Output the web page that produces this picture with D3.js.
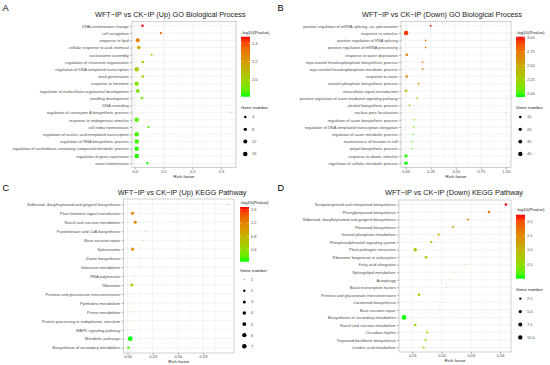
<!DOCTYPE html>
<html>
<head>
<meta charset="utf-8">
<script src="https://cdn.jsdelivr.net/npm/d3@7"></script>
<style>
  body { margin: 0; background: #fff; }
  svg { display: block; font-family: 'Liberation Sans', Arial, sans-serif; }
</style>
</head>
<body>
<main></main>
<script>
/************************************************************************
 Data
************************************************************************/
// A: GO biological process, up
const termsA = ['DNA conformation change', 'cell recognition', 'response to lipid', 'cellular response to acid chemical',
  'nucleosome assembly', 'regulation of chromatin organization', 'regulation of DNA-templated transcription',
  'seed germination', 'response to hormone', 'regulation of multicellular organismal development',
  'seedling development', 'DNA rewinding', 'regulation of coenzyme A biosynthetic process',
  'response to endogenous stimulus', 'cell redox homeostasis', 'regulation of nucleic acid-templated transcription',
  'regulation of RNA biosynthetic process', 'regulation of nucleobase-containing compound metabolic process',
  'regulation of gene expression', 'anion homeostasis'];
const richA = [0.027, 0.091, 0.0105, 0.014, 0.059, 0.028, 0.007, 0.028, 0.007, 0.0105,
  0.0255, 0.336, 0.336, 0.007, 0.048, 0.007, 0.007, 0.007, 0.007, 0.044];
const genesA = [4, 3, 12, 9, 2, 4, 15, 4, 14, 10, 4, 1, 1, 15, 3, 16, 16, 16, 17, 3];
const logpA = [2.47, 2.38, 2.3, 2.15, 2.08, 2.05, 2.03, 2.0, 1.93, 1.92,
  1.9, 1.88, 1.88, 1.87, 1.86, 1.85, 1.85, 1.84, 1.83, 1.82];
const xTicksA = [0, 0.1, 0.2, 0.3];
const colorTicksA = [2.0, 2.2, 2.4];
const sizeTicksA = [4, 8, 12, 16];

// B: GO biological process, down
const termsB = ['positive regulation of mRNA splicing, via spliceosome', 'response to stimulus',
  'positive regulation of RNA splicing', 'positive regulation of mRNA processing', 'response to water deprivation',
  'myo-inositol hexakisphosphate biosynthetic process', 'myo-inositol hexakisphosphate metabolic process',
  'response to water', 'inositol phosphate biosynthetic process', 'intracellular signal transduction',
  'positive regulation of auxin mediated signaling pathway', 'alcohol biosynthetic process',
  'nuclear pore localization', 'regulation of auxin biosynthetic process',
  'regulation of DNA-templated transcription elongation', 'regulation of auxin metabolic process',
  'maintenance of location in cell', 'polyol biosynthetic process', 'response to abiotic stimulus',
  'regulation of cellular metabolic process'];
const richB = [0.25, 0.005, 0.2, 0.2, 0.012, 0.17, 0.17, 0.011, 0.13, 0.005,
  0.115, 0.04, 1.0, 0.085, 0.08, 0.075, 0.068, 0.065, 0.004, 0.004];
const genesB = [4, 46, 3, 3, 9, 3, 3, 9, 3, 9, 3, 4, 1, 2, 2, 2, 2, 2, 20, 20];
const logpB = [3.02, 2.95, 2.8, 2.8, 2.72, 2.7, 2.7, 2.68, 2.6, 2.42,
  2.38, 2.32, 2.05, 2.03, 2.03, 2.0, 1.98, 1.98, 1.95, 1.93];
const xTicksB = [0, 0.25, 0.5, 0.75, 1.0];
const colorTicksB = [2.0, 2.25, 2.5, 2.75, 3.0];
const sizeTicksB = [10, 20, 30, 40];

// C: KEGG pathway, up
const termsC = ['Stilbenoid, diarylheptanoid and gingerol biosynthesis', 'Plant hormone signal transduction',
  'Starch and sucrose metabolism', 'Pantothenate and CoA biosynthesis', 'Base excision repair', 'Spliceosome',
  'Zeatin biosynthesis', 'Galactose metabolism', 'RNA polymerase', 'Ribosome',
  'Pentose and glucuronate interconversions', 'Pyrimidine metabolism', 'Purine metabolism',
  'Protein processing in endoplasmic reticulum', 'MAPK signaling pathway', 'Metabolic pathways',
  'Biosynthesis of secondary metabolites'];
const richC = [0.121, 0.006, 0.0092, 0.022, 0.0187, 0.006, 0.015, 0.0148, 0.0085, 0.0051,
  0.0071, 0.006, 0.0051, 0.0044, 0.0044, 0.0032, 0.0012];
const genesC = [1, 3, 3, 1, 1, 3, 1, 1, 1, 3, 1, 1, 1, 1, 1, 7, 2];
const logpC = [1.68, 1.2, 1.15, 1.0, 1.05, 1.1, 0.88, 0.86, 0.68, 0.6,
  0.52, 0.45, 0.4, 0.3, 0.3, 0.04, 0.1];
const xTicksC = [0, 0.03, 0.06, 0.09];
const colorTicksC = [0.4, 0.8, 1.2, 1.6];
const sizeTicksC = [1, 2, 3, 4, 5, 6, 7];

// D: KEGG pathway, down
const termsD = ['Sesquiterpenoid and triterpenoid biosynthesis', 'Phenylpropanoid biosynthesis',
  'Stilbenoid, diarylheptanoid and gingerol biosynthesis', 'Flavonoid biosynthesis', 'Inositol phosphate metabolism',
  'Phosphatidylinositol signaling system', 'Plant-pathogen interaction', 'Ribosome biogenesis in eukaryotes',
  'Fatty acid elongation', 'Sphingolipid metabolism', 'Autophagy', 'Basal transcription factors',
  'Pentose and glucuronate interconversions', 'Carotenoid biosynthesis', 'Base excision repair',
  'Biosynthesis of secondary metabolites', 'Starch and sucrose metabolism', 'Circadian rhythm',
  'Terpenoid backbone biosynthesis', 'Linoleic acid metabolism'];
const richD = [0.042, 0.0362, 0.029, 0.024, 0.019, 0.0165, 0.011, 0.0147, 0.028, 0.0243,
  0.0232, 0.0217, 0.0123, 0.0208, 0.0193, 0.0072, 0.011, 0.0151, 0.0145, 0.0139];
const genesD = [3, 3, 2, 2, 2, 2, 6, 3, 1, 1, 1, 1, 3, 1, 1, 11, 3, 2, 2, 2];
const logpD = [2.23, 1.75, 1.5, 1.3, 1.15, 1.02, 0.82, 0.78, 0.68, 0.62,
  0.6, 0.58, 0.6, 0.55, 0.52, 0.0, 0.5, 0.45, 0.43, 0.42];
const xTicksD = [0.01, 0.02, 0.03, 0.04];
const colorTicksD = [0.5, 1.0, 1.5, 2.0];
const sizeTicksD = [2.5, 5.0, 7.5, 10.0];

/************************************************************************
 Layout / style constants
************************************************************************/
const width = 550;
const height = 365;
const rMin = 0.45;
const rMax = 2.3;
const gridColor = '#ebebeb';
const textGrey = '#4d4d4d';

const svg = d3.select('main')
  .append('svg')
  .attr('width', width)
  .attr('height', height);

svg.append('rect').attr('width', width).attr('height', height).attr('fill', '#fff');

const panels = [
  { id: 'A', terms: termsA, rich: richA, genes: genesA, logp: logpA, xTicks: xTicksA, xFmt: '.1f',
    colorTicks: colorTicksA, colorFmt: '.1f', sizeTicks: sizeTicksA, sizeFmt: 'd',
    title: 'WFT\u2212IP vs CK\u2212IP (Up) GO Biological Process',
    left: 132, right: 236, top: 21.5, bottom: 167.5, letterX: 2.5, letterY: 10.5, titleX: 95, titleY: 16.5,
    legX: 241, legTitleY: 33.5, barTop: 36.7, barBottom: 96.7, sizeTitleY: 108.5, sizeY0: 117, sizeStep: 12.3 },
  { id: 'B', terms: termsB, rich: richB, genes: genesB, logp: logpB, xTicks: xTicksB, xFmt: '.2f',
    colorTicks: colorTicksB, colorFmt: '.2f', sizeTicks: sizeTicksB, sizeFmt: 'd',
    title: 'WFT\u2212IP vs CK\u2212IP (Down) GO Biological Process',
    left: 401, right: 511, top: 21.5, bottom: 167.5, letterX: 277.5, letterY: 10.5, titleX: 362, titleY: 16.5,
    legX: 516, legTitleY: 33.5, barTop: 36.7, barBottom: 97, sizeTitleY: 108.5, sizeY0: 117, sizeStep: 12.3 },
  { id: 'C', terms: termsC, rich: richC, genes: genesC, logp: logpC, xTicks: xTicksC, xFmt: '.2f',
    colorTicks: colorTicksC, colorFmt: '.1f', sizeTicks: sizeTicksC, sizeFmt: 'd',
    title: 'WFT\u2212IP vs CK\u2212IP (Up) KEGG Pathway',
    left: 123.5, right: 234, top: 199, bottom: 353, letterX: 2.5, letterY: 190.5, titleX: 117.7, titleY: 195,
    legX: 240, legTitleY: 204.2, barTop: 207, barBottom: 261.7, sizeTitleY: 271.8, sizeY0: 279.7, sizeStep: 11.1 },
  { id: 'D', terms: termsD, rich: richD, genes: genesD, logp: logpD, xTicks: xTicksD, xFmt: '.2f',
    colorTicks: colorTicksD, colorFmt: '.1f', sizeTicks: sizeTicksD, sizeFmt: '.1f',
    title: 'WFT\u2212IP vs CK\u2212IP (Down) KEGG Pathway',
    left: 399, right: 511, top: 200, bottom: 352, letterX: 277.5, letterY: 190.5, titleX: 385, titleY: 195,
    legX: 516, legTitleY: 211.2, barTop: 214.7, barBottom: 278.7, sizeTitleY: 290.5, sizeY0: 298.7, sizeStep: 12.9 }
];

// ggplot-like 5% expansion of a continuous range
const expand = ([lo, hi]) => [lo - (hi - lo) * 0.05, hi + (hi - lo) * 0.05];

/************************************************************************
 Draw one bubble panel with its legends
************************************************************************/
const drawPanel = (p) => {
  const g = svg.append('g').attr('id', `panel${p.id}`);

  const x = d3.scaleLinear().domain(expand(d3.extent(p.rich))).range([p.left, p.right]);
  const y = d3.scalePoint().domain(p.terms).range([p.top, p.bottom]).padding(0.6);

  const pExtent = d3.extent(p.logp);
  const color = d3.scaleLinear().domain(pExtent).range(['#00ff00', '#ff0000']).interpolate(d3.interpolateLab);

  const gExtent = d3.extent(p.genes);
  const sizeNorm = d3.scaleSqrt().domain([0, gExtent[1] - gExtent[0]]).range([0, 1]);
  const radius = v => rMin + (rMax - rMin) * sizeNorm(v - gExtent[0]);

  // panel letter + title
  g.append('text').text(p.id)
    .attr('x', p.letterX).attr('y', p.letterY)
    .attr('font-size', 9.2).attr('fill', '#000');
  g.append('text').text(p.title)
    .attr('x', p.titleX).attr('y', p.titleY)
    .attr('font-size', 7.3).attr('fill', '#1a1a1a');

  // panel background + grid
  g.append('rect')
    .attr('x', p.left).attr('y', p.top)
    .attr('width', p.right - p.left).attr('height', p.bottom - p.top)
    .attr('fill', '#fff');

  const step = p.xTicks[1] - p.xTicks[0];
  const [d0, d1] = x.domain();
  const minor = d3.range(p.xTicks[0] - step / 2, d1, step).filter(v => v > d0);

  g.selectAll('.minor').data(minor).enter().append('line')
    .attr('x1', d => x(d)).attr('x2', d => x(d))
    .attr('y1', p.top).attr('y2', p.bottom)
    .attr('stroke', gridColor).attr('stroke-width', 0.3);

  g.selectAll('.vmajor').data(p.xTicks).enter().append('line')
    .attr('x1', d => x(d)).attr('x2', d => x(d))
    .attr('y1', p.top).attr('y2', p.bottom)
    .attr('stroke', gridColor).attr('stroke-width', 0.6);

  g.selectAll('.hmajor').data(p.terms).enter().append('line')
    .attr('x1', p.left).attr('x2', p.right)
    .attr('y1', d => y(d)).attr('y2', d => y(d))
    .attr('stroke', gridColor).attr('stroke-width', 0.6);

  // bubbles
  g.selectAll('circle.pt').data(p.terms).enter().append('circle')
    .attr('cx', (d, i) => x(p.rich[i]))
    .attr('cy', d => y(d))
    .attr('r', (d, i) => radius(p.genes[i]))
    .attr('fill', (d, i) => color(p.logp[i]));

  g.append('rect')
    .attr('x', p.left).attr('y', p.top)
    .attr('width', p.right - p.left).attr('height', p.bottom - p.top)
    .attr('fill', 'none').attr('stroke', '#b3b3b3').attr('stroke-width', 0.6);

  // axes
  const yAxis = g.append('g')
    .attr('transform', `translate(${p.left}, 0)`)
    .call(d3.axisLeft(y).tickSize(2).tickPadding(1.3));
  const xAxis = g.append('g')
    .attr('transform', `translate(0, ${p.bottom})`)
    .call(d3.axisBottom(x).tickValues(p.xTicks).tickFormat(d3.format(p.xFmt)).tickSize(2).tickPadding(0.6));

  [yAxis, xAxis].forEach(ax => {
    ax.select('.domain').remove();
    ax.attr('font-size', 4).attr('font-family', null);
    ax.selectAll('.tick line').attr('stroke', '#555').attr('stroke-width', 0.45);
    ax.selectAll('.tick text').attr('fill', textGrey);
  });

  g.append('text').text('Rich factor')
    .attr('x', (p.left + p.right) / 2).attr('y', p.bottom + 10.2)
    .attr('text-anchor', 'middle').attr('font-size', 4.4).attr('fill', '#222');

  /**********************************************************************
   legends: colour bar and gene number keys
  **********************************************************************/
  const barW = 9;
  g.append('text').text('-log10(Pvalue)')
    .attr('x', p.legX).attr('y', p.legTitleY)
    .attr('font-size', 4.4).attr('fill', '#222');

  const gradId = `grad${p.id}`;
  const grad = svg.append('defs').append('linearGradient')
    .attr('id', gradId).attr('x1', 0).attr('x2', 0).attr('y1', 1).attr('y2', 0);
  d3.range(0, 1.0001, 0.1).forEach(t => {
    grad.append('stop')
      .attr('offset', t)
      .attr('stop-color', color(pExtent[0] + t * (pExtent[1] - pExtent[0])));
  });

  g.append('rect')
    .attr('x', p.legX).attr('y', p.barTop)
    .attr('width', barW).attr('height', p.barBottom - p.barTop)
    .attr('fill', `url(#${gradId})`);

  const cb = d3.scaleLinear().domain(pExtent).range([p.barBottom, p.barTop]);
  p.colorTicks.forEach(t => {
    [[0, 1.8], [barW - 1.8, barW]].forEach(([a, b]) => {
      g.append('line')
        .attr('x1', p.legX + a).attr('x2', p.legX + b)
        .attr('y1', cb(t)).attr('y2', cb(t))
        .attr('stroke', '#fff').attr('stroke-width', 0.4);
    });
    g.append('text').text(d3.format(p.colorFmt)(t))
      .attr('x', p.legX + barW + 2).attr('y', cb(t)).attr('dy', '0.35em')
      .attr('font-size', 4).attr('fill', textGrey);
  });

  g.append('text').text('Gene number')
    .attr('x', p.legX).attr('y', p.sizeTitleY)
    .attr('font-size', 4.4).attr('fill', '#222');

  p.sizeTicks.forEach((t, i) => {
    const cy = p.sizeY0 + i * p.sizeStep;
    g.append('circle')
      .attr('cx', p.legX + 4.3).attr('cy', cy)
      .attr('r', radius(t)).attr('fill', '#000');
    g.append('text').text(d3.format(p.sizeFmt)(t))
      .attr('x', p.legX + barW + 2).attr('y', cy).attr('dy', '0.35em')
      .attr('font-size', 4).attr('fill', textGrey);
  });
};

panels.forEach(drawPanel);
</script>
</body>
</html>
